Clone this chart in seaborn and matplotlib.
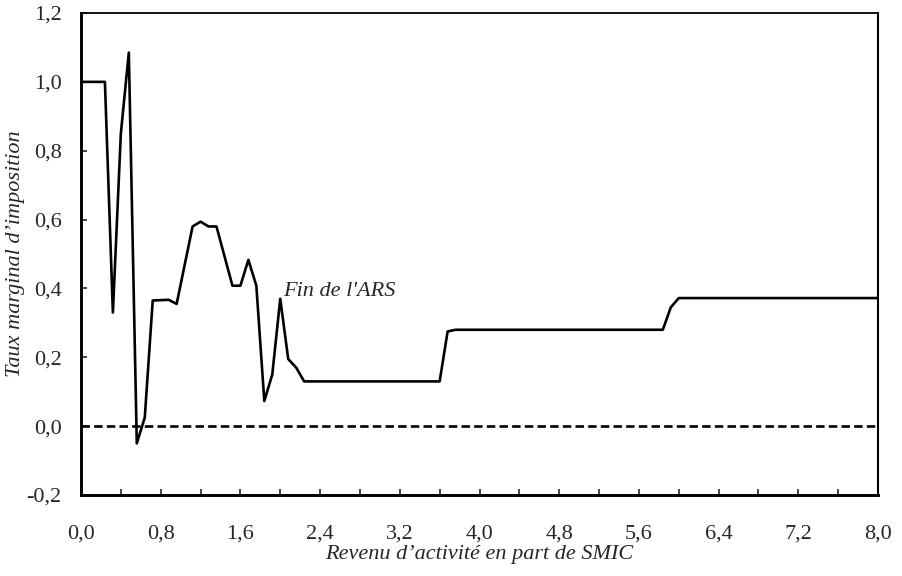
import matplotlib.pyplot as plt
import matplotlib.ticker as mticker
import pandas as pd
import seaborn as sns

# revenu d'activité (part de SMIC) et taux marginal d'imposition
revenu = [0.0, 0.24, 0.32, 0.40, 0.48, 0.56, 0.64, 0.72, 0.88, 0.96, 1.12, 1.20,
          1.28, 1.36, 1.52, 1.60, 1.68, 1.76, 1.84, 1.92, 2.00, 2.08, 2.16, 2.24,
          3.60, 3.68, 3.76, 5.84, 5.92, 6.00, 8.00]
taux = [1.0, 1.0, 0.33, 0.85, 1.085, -0.05, 0.025, 0.365, 0.367, 0.355, 0.58, 0.594,
        0.58, 0.58, 0.408, 0.408, 0.483, 0.408, 0.073, 0.15, 0.37, 0.195, 0.17, 0.13,
        0.13, 0.275, 0.28, 0.28, 0.345, 0.372, 0.372]
zero_x = [0.0, 8.0]
zero_y = [0.0, 0.0]
x_ticks = [0.0, 0.8, 1.6, 2.4, 3.2, 4.0, 4.8, 5.6, 6.4, 7.2, 8.0]
y_ticks = [-0.2, 0.0, 0.2, 0.4, 0.6, 0.8, 1.0, 1.2]

sns.set_style('white')
plt.rcParams['font.family'] = ['Liberation Serif', 'DejaVu Serif']

df = pd.DataFrame({'revenu': revenu, 'taux': taux})

fig = plt.figure(figsize=(9.02, 5.76), dpi=100)
ax = fig.add_axes([0.0898, 0.1406, 0.8836, 0.8368])

sns.lineplot(data=df, x='revenu', y='taux', ax=ax, color='black', linewidth=1.9)
ax.plot(zero_x, zero_y, color='black', linewidth=1.9, linestyle=(0, (3.2, 1.6)))

ax.set_xlim(0, 8)
ax.set_ylim(-0.2, 1.2)
ax.set_xticks(x_ticks)
ax.xaxis.set_minor_locator(mticker.MultipleLocator(0.4))
ax.set_yticks(y_ticks)
fmt = lambda v, p: f'{v:.1f}'.replace('.', ',')
ax.xaxis.set_major_formatter(mticker.FuncFormatter(fmt))
ax.yaxis.set_major_formatter(mticker.FuncFormatter(fmt))

ax.tick_params(axis='x', which='both', direction='in', length=4.5, width=1.2,
               bottom=True, labelsize=16, pad=21)
ax.tick_params(axis='y', which='both', direction='in', length=4.5, width=1.2,
               left=True, labelsize=16, pad=14)

for side in ['left', 'bottom']:
    ax.spines[side].set_linewidth(2.1)
ax.spines['right'].set_linewidth(1.5)
ax.spines['top'].set_linewidth(1.3)
for s in ax.spines.values():
    s.set_color('black')

ax.set_xlabel('Revenu d’activité en part de SMIC', fontsize=16, style='italic', labelpad=1)
ax.set_ylabel('Taux marginal d’imposition', fontsize=16, style='italic', labelpad=1)
ax.text(2.03, 0.379, "Fin de l'ARS", fontsize=16, style='italic', va='baseline')

fig.savefig('out.png', dpi=100)
